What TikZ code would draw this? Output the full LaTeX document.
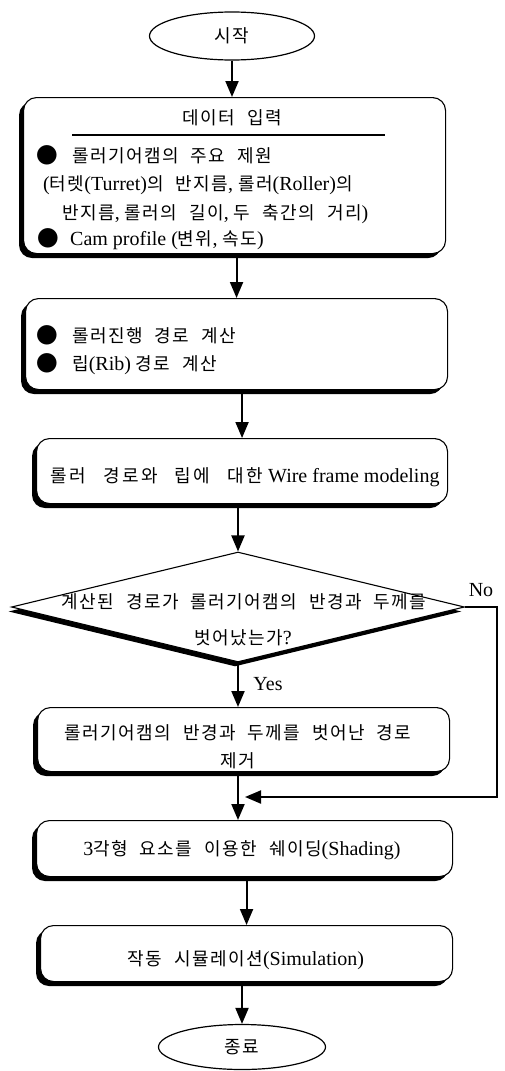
\documentclass[tikz,border=0pt]{standalone}
\usepackage{fontspec}
\setmainfont{Liberation Serif}
\newfontfamily\kr[Scale=0.9,LetterSpace=8,WordSpace=2.2]{Noto Sans CJK KR}
\newfontfamily\krw[Scale=0.9,LetterSpace=14,WordSpace=2.6]{Noto Sans CJK KR}
\newcommand\K[1]{{\kr #1}}
\newcommand\KW[1]{{\krw #1}}
\usetikzlibrary{shapes.geometric,shadows,arrows.meta}
\begin{document}
\begin{tikzpicture}[x=1pt,y=-1pt,
  every node/.style={font=\fontsize{20}{24}\selectfont},
  box/.style={draw, line width=1.1pt, rounded corners=13pt, fill=white, inner sep=0pt,
    drop shadow={shadow xshift=-4.5pt, shadow yshift=-4.5pt, opacity=1, fill=black}},
  term/.style={draw, line width=1.2pt, ellipse, fill=white, inner sep=0pt},
  decide/.style={draw, line width=1.1pt, diamond, fill=white, inner sep=0pt,
    drop shadow={shadow xshift=-3pt, shadow yshift=-4.5pt, opacity=1, fill=black}},
  txt/.style={inner sep=0pt, anchor=base},
  ltxt/.style={inner sep=0pt, anchor=base west},
  bul/.style={inner sep=0pt, font=\fontsize{24}{24}\selectfont},
  arr/.style={line width=2pt, -{Triangle[length=16pt,width=13pt]}}]
\useasboundingbox (0,0) rectangle (504,1071);
% terminals
\node[term, minimum width=165pt, minimum height=48pt] (s) at (232,36) {\K{시작}};
\node[term, minimum width=167pt, minimum height=45pt] (e) at (242,1047) {\K{종료}};
% boxes
\node[box, anchor=north west, minimum width=422pt, minimum height=156pt] (b1) at (23,97) {};
\node[box, anchor=north west, minimum width=422pt, minimum height=91pt] (b2) at (25,298) {};
\node[box, anchor=north west, minimum width=411pt, minimum height=65pt] (b3) at (36,438) {};
\node[decide, minimum width=453pt, minimum height=110pt] (d) at (238,607) {};
\node[box, anchor=north west, minimum width=412pt, minimum height=64pt] (b4) at (37,707) {};
\node[box, anchor=north west, minimum width=416pt, minimum height=56pt] (b5) at (36,820) {};
\node[box, anchor=north west, minimum width=412pt, minimum height=56pt] (b6) at (40,925) {};
% box 1 texts
\node[txt] (t1) at (232,124) {\K{데이터 입력}};
\draw[line width=1.4pt] (72,135) -- (385,135);
\node[bul] (u1) at (47,155) {\K{●}};
\node[ltxt] (l1) at (72,162) {\K{롤러기어캠의 주요 제원}};
\node[ltxt] (l2) at (43,190) {(\K{터렛}(Turret)\K{의 반지름}, \K{롤러}(Roller)\K{의}};
\node[ltxt] (l3) at (62,219) {\K{반지름}, \K{롤러의 길이}, \K{두 축간의 거리})};
\node[bul] (u2) at (48,238) {\K{●}};
\node[ltxt] (l4) at (70,245) {Cam profile (\K{변위}, \K{속도})};
% box 2
\node[bul] (u3) at (47,335) {\K{●}};
\node[ltxt] (l5) at (72,342) {\K{롤러진행 경로 계산}};
\node[bul] (u4) at (47,363) {\K{●}};
\node[ltxt] (l6) at (72,370) {\K{립}(Rib) \K{경로 계산}};
% box 3
\node[txt] (l7) at (245,482) {\KW{롤러 경로와 립에 대한} Wire frame modeling};
% decision
\node[txt] (l8) at (244,608) {\K{계산된 경로가 롤러기어캠의 반경과 두께를}};
\node[txt] (l9) at (243,644) {\K{벗어났는가}?};
\node[txt] (no) at (481,596) {No};
\node[txt] (yes) at (268,690) {Yes};
% box 4
\node[txt] (l10) at (238,739) {\K{롤러기어캠의 반경과 두께를 벗어난 경로}};
\node[txt] (l11) at (238,767) {\K{제거}};
% box 5, 6
\node[txt] (l12) at (242,855) {3\K{각형 요소를 이용한 쉐이딩}(Shading)};
\node[txt] (l13) at (246,965) {\K{작동 시뮬레이션}(Simulation)};
% connectors
\coordinate (nr) at (497,607);
\coordinate (j) at (245,797);
\draw[arr] (s.south) -- (s.south |- b1.north);
\draw[arr] (b2.north |- b1.south) -- (b2.north);
\draw[arr] (b3.north |- b2.south) -- (b3.north);
\draw[arr] (d.north |- b3.south) -- (d.north);
\draw[arr] (d.south) -- (d.south |- b4.north);
\draw[arr] (d.south |- b4.south) -- (d.south |- b5.north);
\draw[arr] (d.east) -- (nr |- d.east) -- (nr |- j) -- (j);
\draw[arr] (b6.north |- b5.south) -- (b6.north);
\draw[arr] (e.north |- b6.south) -- (e.north);
\end{tikzpicture}
\end{document}
